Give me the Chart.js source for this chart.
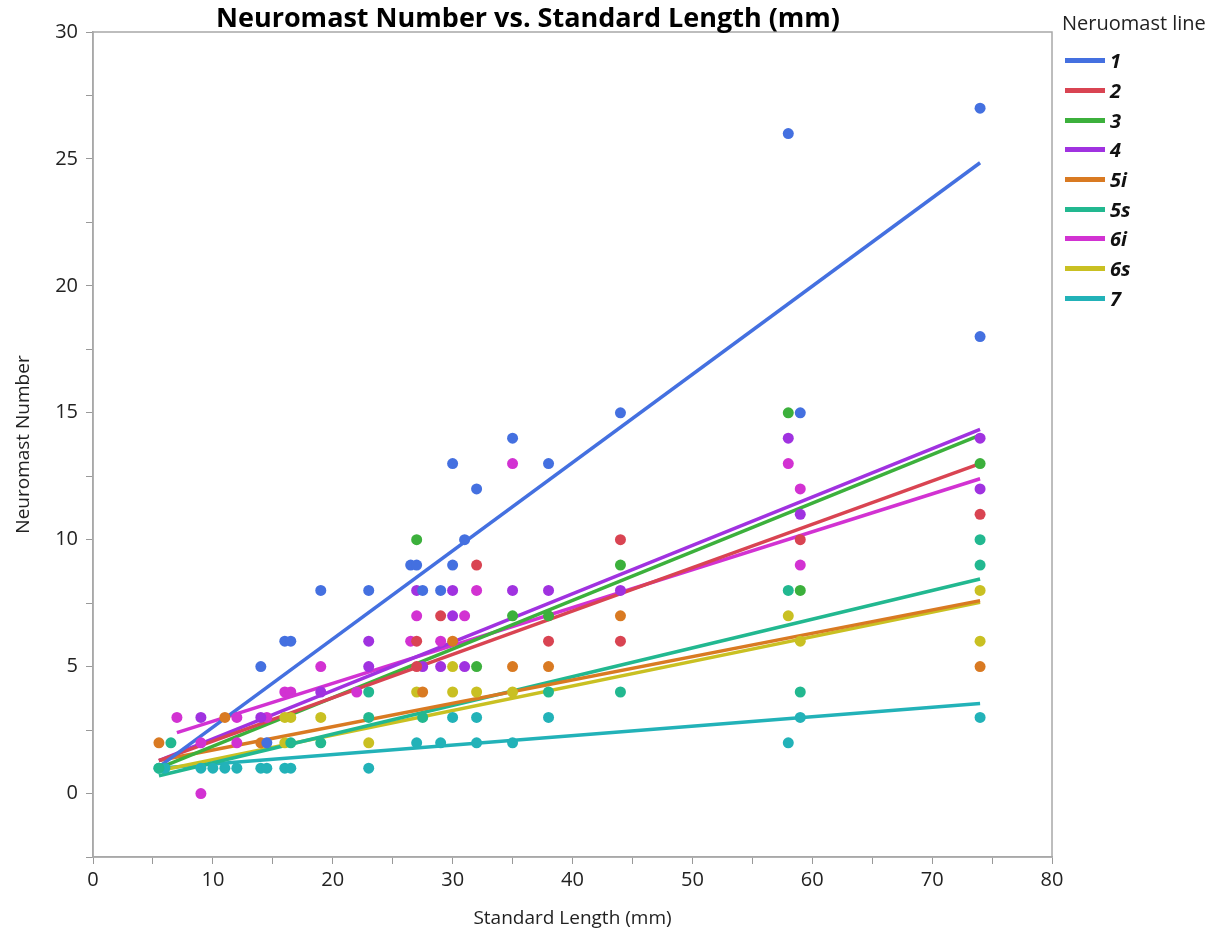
<!DOCTYPE html>
<html>
<head>
<meta charset="utf-8">
<script src="https://cdn.jsdelivr.net/npm/chart.js@4.4.1/dist/chart.umd.min.js"></script>
<style>
  body { margin: 0; background: #fff; font-family: "Open Sans", sans-serif; }
  #wrap { position: relative; width: 1231px; height: 934px; }
  #legend { position: absolute; left: 1062px; top: 9px; color: #222; }
  #legend .ttl { font-size: 20px; margin-bottom: 10px; }
  #legend .item { display: flex; align-items: center; height: 29.7px; }
  #legend .sw { width: 40px; height: 5px; margin: 0 5px 0 3px; }
  #legend .lab { font-size: 20px; font-weight: bold; font-style: italic; color: #111; }
</style>
</head>
<body>
<div id="wrap">
  <canvas id="chart"></canvas>
  <div id="legend"><div class="ttl">Neruomast line</div></div>
</div>
<script>
document.addEventListener('DOMContentLoaded', function() {
    // Neuromast lines and their colours
    const lineNames = ['1', '2', '3', '4', '5i', '5s', '6i', '6s', '7'];
    const lineColors = ['#4470e0', '#d94452', '#3cb03c', '#a032e0', '#d97a22', '#22b890', '#d232d2', '#c9c022', '#22b2b8'];

    // Observations [standard length, neuromast number]
    const pts1 = [[14,5],[14.5,2],[16,6],[16.5,6],[19,8],[23,8],[26.5,9],[27,9],[27.5,8],[29,8],[30,13],[30,9],[31,10],[32,12],[35,14],[38,13],[44,15],[58,26],[59,15],[74,27],[74,18]];
    const pts2 = [[27,6],[27,5],[29,7],[32,9],[38,6],[44,10],[44,6],[59,10],[74,11]];
    const pts3 = [[27,10],[32,5],[35,7],[38,7],[44,9],[58,15],[59,8],[74,13]];
    const pts4 = [[9,3],[14,3],[19,4],[23,6],[23,5],[27,8],[27.5,5],[29,5],[30,8],[30,7],[31,5],[35,8],[38,8],[44,8],[58,14],[59,11],[74,14],[74,12]];
    const pts5i = [[5.5,2],[11,3],[14,2],[27.5,4],[30,6],[35,5],[38,5],[44,7],[74,5]];
    const pts5s = [[6.5,2],[5.5,1],[16.5,2],[19,2],[23,4],[23,3],[27.5,3],[38,4],[44,4],[58,8],[59,4],[74,10],[74,9]];
    const pts6i = [[7,3],[9,2],[9,0],[12,3],[12,2],[14.5,3],[16,4],[16.5,4],[19,5],[22,4],[26.5,6],[27,7],[29,6],[31,7],[32,8],[35,13],[58,13],[59,12],[59,9]];
    const pts6s = [[16,3],[16.5,3],[16,2],[19,3],[23,2],[27,4],[30,5],[30,4],[32,4],[35,4],[58,7],[59,6],[74,8],[74,6]];
    const pts7 = [[5.5,1],[6,1],[9,1],[10,1],[11,1],[12,1],[14,1],[14.5,1],[16,1],[16.5,1],[23,1],[27,2],[29,2],[30,3],[32,3],[32,2],[35,2],[38,3],[58,2],[59,3],[74,3]];
    const allPts = [pts1, pts2, pts3, pts4, pts5i, pts5s, pts6i, pts6s, pts7];

    // Fitted lines (start x, start y, end y at x = 74)
    const fitFromX = [5.5, 5.5, 5.5, 5.5, 5.5, 5.5, 7, 5.5, 5.5];
    const fitFromY = [1.05, 1.3, 1.0, 1.3, 1.3, 0.7, 2.4, 0.9, 1.0];
    const fitToX = 74;
    const fitToY = [24.85, 13.0, 14.12, 14.35, 7.6, 8.45, 12.4, 7.53, 3.55];

    const datasets = [];
    lineNames.forEach(function(name, i) {
        datasets.push({
            type: 'line',
            label: name,
            data: [{x: fitFromX[i], y: fitFromY[i]}, {x: fitToX, y: fitToY[i]}],
            borderColor: lineColors[i],
            borderWidth: 3.5,
            pointRadius: 0,
            fill: false,
            order: 2
        });
        datasets.push({
            type: 'scatter',
            label: name + ' pts',
            data: allPts[i].map(p => ({x: p[0], y: p[1]})),
            backgroundColor: lineColors[i],
            borderWidth: 0,
            pointRadius: 5.5,
            order: 1
        });
    });

    // Legend
    const legend = document.getElementById('legend');
    lineNames.forEach(function(name, i) {
        const row = document.createElement('div');
        row.className = 'item';
        row.innerHTML = '<span class="sw" style="background:' + lineColors[i] + '"></span><span class="lab">' + name + '</span>';
        legend.appendChild(row);
    });

    const frame = {
        id: 'frame',
        afterDraw(chart) {
            const a = chart.chartArea, ctx = chart.ctx;
            ctx.save();
            ctx.strokeStyle = '#a8a8a8';
            ctx.lineWidth = 1.5;
            ctx.strokeRect(a.left, a.top, a.right - a.left, a.bottom - a.top);
            ctx.fillStyle = '#000';
            ctx.font = 'bold 27px "Open Sans"';
            ctx.textAlign = 'center';
            ctx.textBaseline = 'alphabetic';
            ctx.fillText('Neuromast Number vs. Standard Length (mm)', 528, 27, 630);
            ctx.restore();
        }
    };

    const tickFont = {family: 'Open Sans', size: 20};
    new Chart(document.getElementById('chart').getContext('2d'), {
        data: {datasets: datasets},
        options: {
            responsive: true,
            maintainAspectRatio: false,
            animation: false,
            layout: {padding: {top: 32, right: 179, left: 0, bottom: 0}},
            plugins: {legend: {display: false}, tooltip: {enabled: false}},
            scales: {
                x: {
                    type: 'linear',
                    min: 0,
                    max: 80,
                    afterFit: s => { s.height = 77; },
                    ticks: {
                        stepSize: 5,
                        color: '#222',
                        font: tickFont,
                        padding: 4,
                        maxRotation: 0,
                        callback: v => (v % 10 === 0 ? v : '')
                    },
                    grid: {drawOnChartArea: false, tickLength: 7, tickColor: '#999'},
                    border: {color: '#a8a8a8', width: 1.5},
                    title: {display: true, text: 'Standard Length (mm)', color: '#222', font: {family: 'Open Sans', size: 19}, padding: {top: 2}}
                },
                y: {
                    type: 'linear',
                    min: -2.5,
                    max: 30,
                    afterFit: s => { s.width = 93; },
                    ticks: {
                        stepSize: 2.5,
                        color: '#222',
                        font: tickFont,
                        padding: 8,
                        callback: v => (v % 5 === 0 ? v : '')
                    },
                    grid: {drawOnChartArea: false, tickLength: 7, tickColor: '#999'},
                    border: {color: '#a8a8a8', width: 1.5},
                    title: {display: true, text: 'Neuromast Number', color: '#222', font: {family: 'Open Sans', size: 19}, padding: {top: 12, bottom: 0}}
                }
            }
        },
        plugins: [frame]
    });
});
</script>
</body>
</html>
